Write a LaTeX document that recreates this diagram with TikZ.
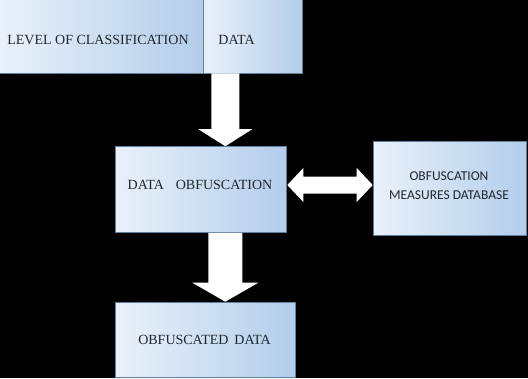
\documentclass[tikz,border=0pt]{standalone}
\usepackage{fontspec}
\setmainfont{Liberation Serif}
\newfontfamily\tms{Liberation Serif}
\newfontfamily\calib{Carlito}
\usetikzlibrary{calc}
\definecolor{boxL}{HTML}{E9F1FA}
\definecolor{boxR}{HTML}{B3CDEA}
\definecolor{boxEdge}{HTML}{5F7F9F}
\definecolor{txt}{HTML}{1E2630}
\tikzset{
  box/.style={rectangle, draw=boxEdge, line width=0.6pt, left color=boxL, right color=boxR, inner sep=0pt},
  lbl/.style={text=txt, font=\tms\fontsize{14}{19}\selectfont, inner sep=0pt, align=center},
  blockarrowfill/.style={fill=white, draw=none},
}
% single block arrow: start, end, shaft half-width, head half-width, head length
\newcommand\blockarrow[5]{%
  \coordinate (ba-b) at ($(#2)!#5!(#1)$);
  \fill[blockarrowfill] ($(#1)!#3!90:(#2)$) -- ($(ba-b)!#3!90:(#2)$) -- ($(ba-b)!#4!90:(#2)$) -- (#2)
    -- ($(ba-b)!#4!-90:(#2)$) -- ($(ba-b)!#3!-90:(#2)$) -- ($(#1)!#3!-90:(#2)$) -- cycle;
}
% double block arrow
\newcommand\dblarrow[5]{%
  \coordinate (da-b1) at ($(#1)!#5!(#2)$);
  \coordinate (da-b2) at ($(#2)!#5!(#1)$);
  \fill[blockarrowfill] (#1) -- ($(da-b1)!#4!90:(#2)$) -- ($(da-b1)!#3!90:(#2)$) -- ($(da-b2)!#3!90:(#2)$)
    -- ($(da-b2)!#4!90:(#2)$) -- (#2) -- ($(da-b2)!#4!-90:(#2)$) -- ($(da-b2)!#3!-90:(#2)$)
    -- ($(da-b1)!#3!-90:(#2)$) -- ($(da-b1)!#4!-90:(#2)$) -- cycle;
}
\begin{document}
\begin{tikzpicture}[x=1pt,y=-1pt]
  \useasboundingbox (0,0) rectangle (528,378);
  \fill[black] (0,0) rectangle (528,378);

  % boxes
  \node[box, minimum width=205pt, minimum height=76pt] (tl) at (100.5,35) {};
  \node[box, minimum width=99pt, minimum height=76pt] (tr) at (252.5,35) {};
  \node[box, minimum width=171pt, minimum height=86pt] (mid) at (200.5,189.5) {};
  \node[box, minimum width=153pt, minimum height=94pt] (db) at (449.5,188) {};
  \node[box, minimum width=180pt, minimum height=75pt] (bot) at (205,339.5) {};

  % texts
  \node[lbl] (tlt) at (98,40) {LEVEL OF CLASSIFICATION};
  \node[lbl] (trt) at (236.5,40) {DATA};
  \node[lbl] (midt) at (200,185) {DATA\hspace{12pt}OBFUSCATION};
  \node[lbl, font=\calib\fontsize{13.5}{19}\selectfont] (dbt) at (449,186) {OBFUSCATION\\MEASURES DATABASE};
  \node[lbl] (bott) at (204.5,340) {OBFUSCATED\hspace{6pt}DATA};

  % arrows
  \coordinate (a1s) at ($(tl.south east)+(22,0)$);
  \coordinate (a1e) at (a1s |- mid.north);
  \blockarrow{a1s}{a1e}{14pt}{27pt}{17pt}

  \coordinate (a2s) at (mid.south -| a1s);
  \coordinate (a2e) at (a2s |- bot.north);
  \blockarrow{a2s}{a2e}{17pt}{33pt}{19pt}

  \coordinate (ds) at ($(mid.east)+(1,-4.5)$);
  \coordinate (de) at (ds -| db.west);
  \dblarrow{ds}{de}{8.5pt}{17pt}{16pt}
\end{tikzpicture}
\end{document}
